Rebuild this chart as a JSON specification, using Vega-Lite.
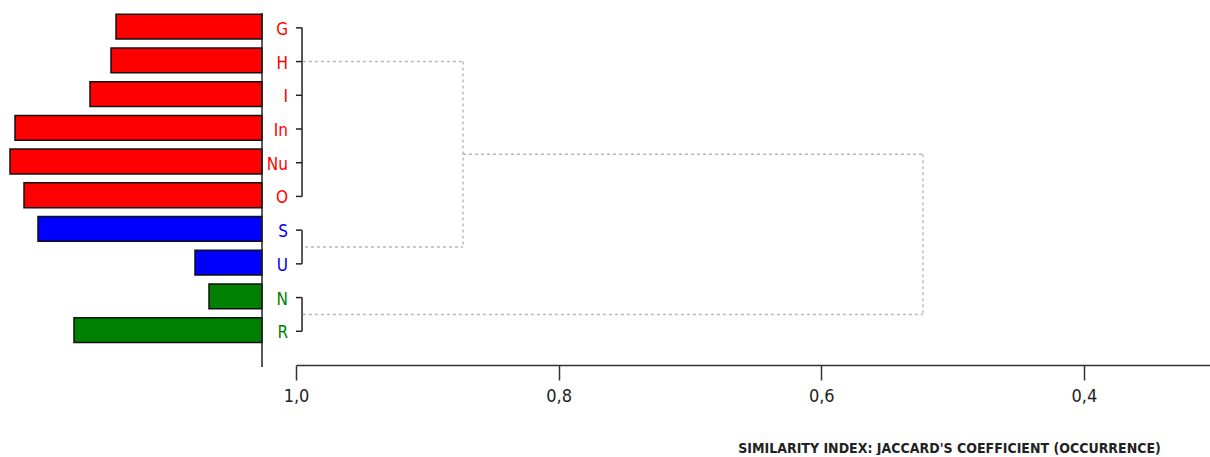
{
  "$schema": "https://vega.github.io/schema/vega-lite/v6.json",
  "background": "white",
  "padding": {"left": 0, "top": 11, "right": 0, "bottom": 0},
  "spacing": 0,
  "bounds": "flush",
  "config": {"view": {"stroke": null}},
  "datasets": {
    "leaves": [
      {"leaf": "G", "row": 1, "group": "red", "length": 146},
      {"leaf": "H", "row": 2, "group": "red", "length": 151},
      {"leaf": "I", "row": 3, "group": "red", "length": 172},
      {"leaf": "In", "row": 4, "group": "red", "length": 247},
      {"leaf": "Nu", "row": 5, "group": "red", "length": 252},
      {"leaf": "O", "row": 6, "group": "red", "length": 238},
      {"leaf": "S", "row": 7, "group": "blue", "length": 224},
      {"leaf": "U", "row": 8, "group": "blue", "length": 67},
      {"leaf": "N", "row": 9, "group": "green", "length": 53},
      {"leaf": "R", "row": 10, "group": "green", "length": 188}
    ],
    "segments": [
      {"kind": "solid", "x1": 1.0, "x2": 0.9954, "y1": 1, "y2": 1},
      {"kind": "solid", "x1": 1.0, "x2": 0.9954, "y1": 2, "y2": 2},
      {"kind": "solid", "x1": 1.0, "x2": 0.9954, "y1": 3, "y2": 3},
      {"kind": "solid", "x1": 1.0, "x2": 0.9954, "y1": 4, "y2": 4},
      {"kind": "solid", "x1": 1.0, "x2": 0.9954, "y1": 5, "y2": 5},
      {"kind": "solid", "x1": 1.0, "x2": 0.9954, "y1": 6, "y2": 6},
      {"kind": "solid", "x1": 1.0, "x2": 0.9954, "y1": 7, "y2": 7},
      {"kind": "solid", "x1": 1.0, "x2": 0.9954, "y1": 8, "y2": 8},
      {"kind": "solid", "x1": 1.0, "x2": 0.9954, "y1": 9, "y2": 9},
      {"kind": "solid", "x1": 1.0, "x2": 0.9954, "y1": 10, "y2": 10},
      {"kind": "solid", "x1": 0.9954, "x2": 0.9954, "y1": 1, "y2": 6},
      {"kind": "solid", "x1": 0.9954, "x2": 0.9954, "y1": 7, "y2": 8},
      {"kind": "solid", "x1": 0.9954, "x2": 0.9954, "y1": 9, "y2": 10},
      {"kind": "dashed", "x1": 0.9948, "x2": 0.8728, "y1": 2, "y2": 2},
      {"kind": "dashed", "x1": 0.8728, "x2": 0.8728, "y1": 2, "y2": 7.5},
      {"kind": "dashed", "x1": 0.9932, "x2": 0.8728, "y1": 7.5, "y2": 7.5},
      {"kind": "dashed", "x1": 0.8728, "x2": 0.5226, "y1": 4.75, "y2": 4.75},
      {"kind": "dashed", "x1": 0.5226, "x2": 0.5226, "y1": 4.75, "y2": 9.5},
      {"kind": "dashed", "x1": 0.9948, "x2": 0.5226, "y1": 9.5, "y2": 9.5}
    ]
  },
  "hconcat": [
    {
      "width": 262,
      "height": 354,
      "layer": [
        {
          "data": {"name": "leaves"},
          "mark": {"type": "bar", "orient": "horizontal", "height": 24.8, "stroke": "#111111", "strokeWidth": 1.5, "yOffset": -1.2},
          "encoding": {
            "x": {"field": "length", "type": "quantitative", "scale": {"domain": [0, 262], "reverse": true, "nice": false, "zero": false, "padding": 0}, "axis": null},
            "x2": {"datum": 0},
            "y": {"field": "row", "type": "quantitative", "scale": {"domain": [0.5, 11], "reverse": true, "nice": false, "zero": false, "padding": 0}, "axis": null},
            "color": {"field": "group", "type": "nominal", "scale": {"domain": ["red", "blue", "green"], "range": ["#ff0000", "#0000ff", "#008000"]}, "legend": null}
          }
        },
        {
          "data": {"values": [{}]},
          "mark": {"type": "rule", "color": "#222222", "strokeWidth": 1.5},
          "encoding": {"x": {"datum": 0}, "y": {"datum": 0.56}, "y2": {"datum": 11.06}}
        }
      ]
    },
    {
      "width": 34,
      "height": 354,
      "data": {"name": "leaves"},
      "mark": {"type": "text", "align": "right", "baseline": "middle", "dx": 9, "dy": 2, "font": "'DejaVu Sans Condensed', sans-serif", "fontSize": 17},
      "encoding": {
        "y": {"field": "row", "type": "quantitative", "scale": {"domain": [0.5, 11], "reverse": true, "nice": false, "zero": false}, "axis": null},
        "text": {"field": "leaf"},
        "color": {"field": "group", "type": "nominal", "scale": {"domain": ["red", "blue", "green"], "range": ["#ff0000", "#0000ff", "#008000"]}, "legend": null}
      }
    },
    {
      "width": 914,
      "height": 354,
      "data": {"name": "segments"},
      "encoding": {
        "x": {
          "field": "x1", "type": "quantitative",
          "scale": {"domain": [0.304, 1], "reverse": true, "nice": false, "zero": false},
          "axis": {
            "values": [1, 0.8, 0.6, 0.4],
            "format": ".1f",
            "labelExpr": "replace(datum.label, '.', ',')",
            "grid": false,
            "tickSize": 15,
            "tickWidth": 1.5,
            "tickColor": "#333333",
            "domainColor": "#333333",
            "domainWidth": 1.5,
            "labelPadding": 7,
            "labelFont": "'DejaVu Sans Condensed', sans-serif",
            "labelFontSize": 18,
            "labelColor": "#222222",
            "labelFlush": false,
            "labelOverlap": false,
            "title": "SIMILARITY INDEX: JACCARD'S COEFFICIENT (OCCURRENCE)",
            "titleFont": "'DejaVu Sans Condensed', sans-serif",
            "titleFontSize": 14,
            "titleFontWeight": "bold",
            "titleColor": "#222222",
            "titleX": 653,
            "titleY": 87,
            "titleAlign": "center",
            "titleBaseline": "alphabetic"
          }
        },
        "x2": {"field": "x2"},
        "y": {"field": "y1", "type": "quantitative", "scale": {"domain": [0.5, 11], "reverse": true, "nice": false, "zero": false}, "axis": null},
        "y2": {"field": "y2"}
      },
      "layer": [
        {
          "transform": [{"filter": "datum.kind === 'solid'"}],
          "mark": {"type": "rule", "color": "#222222", "strokeWidth": 1.5}
        },
        {
          "transform": [{"filter": "datum.kind === 'dashed'"}],
          "mark": {"type": "rule", "color": "#b8b8b8", "strokeWidth": 1.4, "strokeDash": [3, 3]}
        }
      ]
    }
  ]
}
